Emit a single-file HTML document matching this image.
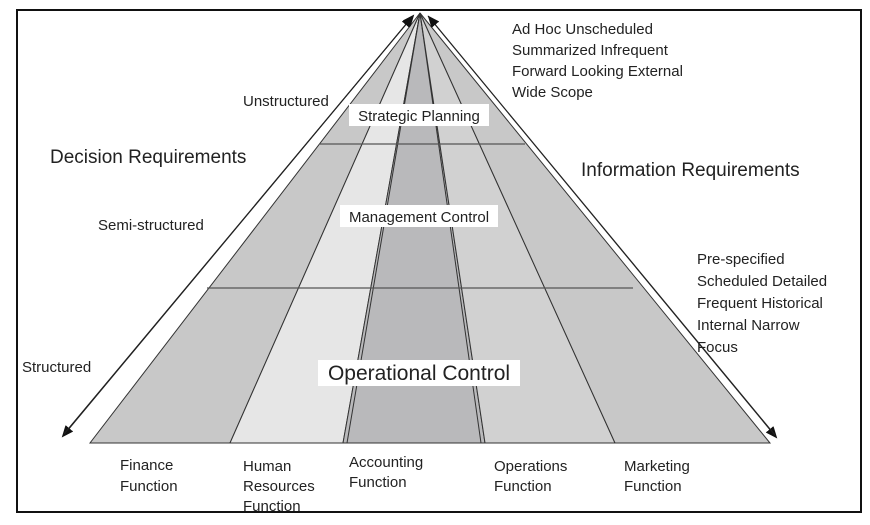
<!DOCTYPE html>
<html><head><meta charset="utf-8"><style>
body{margin:0;background:#fff;}
svg text{font-family:"Liberation Sans",Arial,sans-serif;fill:#222;}
</style></head><body>
<svg width="870" height="520" viewBox="0 0 870 520" xmlns="http://www.w3.org/2000/svg">
<rect x="0" y="0" width="870" height="520" fill="#fff"/>
<rect x="17" y="10" width="844" height="502" fill="none" stroke="#111" stroke-width="2"/>
<defs><marker id="ah" markerWidth="12" markerHeight="12" refX="10" refY="5" orient="auto" markerUnits="userSpaceOnUse"><path d="M0,0 L12,5 L0,10 z" fill="#111"/></marker></defs>
<!-- columns -->
<g stroke="#333" stroke-width="1">
<polygon points="420,13 90,443 230,443" fill="#c8c8c8"/>
<polygon points="420,13 230,443 343,443" fill="#e6e6e6"/>
<polygon points="420,13 343,443 485,443" fill="#b9b9bb"/>
<polygon points="420,13 485,443 615,443" fill="#d1d1d1"/>
<polygon points="420,13 615,443 770,443" fill="#c8c8c8"/>
</g>
<line x1="420" y1="13" x2="347" y2="443" stroke="#333" stroke-width="1"/>
<line x1="420" y1="13" x2="481" y2="443" stroke="#333" stroke-width="1"/>
<line x1="319" y1="144" x2="525" y2="144" stroke="#555" stroke-width="1.2"/>
<line x1="207" y1="288" x2="633" y2="288" stroke="#555" stroke-width="1.2"/>
<!-- arrows -->
<line x1="64" y1="434" x2="413" y2="16" stroke="#222" stroke-width="1" marker-end="url(#ah)" marker-start="url(#ah2)"/>
<line x1="413" y1="16" x2="63" y2="436" stroke="#222" stroke-width="1" marker-end="url(#ah)"/>
<line x1="64" y1="434" x2="412" y2="17" stroke="#222" stroke-width="1" marker-end="url(#ah)"/>
<line x1="428" y1="16" x2="776" y2="437" stroke="#222" stroke-width="1" marker-end="url(#ah)"/>
<line x1="775" y1="435" x2="429" y2="17" stroke="#222" stroke-width="1" marker-end="url(#ah)"/>
<!-- labels -->
<rect x="349" y="104" width="140" height="22" fill="#fff"/>
<text x="419" y="121" font-size="15" text-anchor="middle">Strategic Planning</text>
<rect x="340" y="205" width="158" height="22" fill="#fff"/>
<text x="419" y="222" font-size="15" text-anchor="middle">Management Control</text>
<rect x="318" y="360" width="202" height="26" fill="#fff"/>
<text x="419" y="380" font-size="21" text-anchor="middle">Operational Control</text>
<text x="243" y="106" font-size="15">Unstructured</text>
<text x="50" y="163" font-size="19">Decision Requirements</text>
<text x="98" y="230" font-size="15">Semi-structured</text>
<text x="22" y="372" font-size="15">Structured</text>
<g font-size="15">
<text x="512" y="34">Ad Hoc Unscheduled</text>
<text x="512" y="55">Summarized Infrequent</text>
<text x="512" y="76">Forward Looking External</text>
<text x="512" y="97">Wide Scope</text>
<text x="697" y="264">Pre-specified</text>
<text x="697" y="286">Scheduled Detailed</text>
<text x="697" y="308">Frequent Historical</text>
<text x="697" y="330">Internal Narrow</text>
<text x="697" y="352">Focus</text>
</g>
<text x="581" y="176" font-size="19">Information Requirements</text>
<g font-size="15">
<text x="120" y="470">Finance</text><text x="120" y="491">Function</text>
<text x="243" y="471">Human</text><text x="243" y="491">Resources</text><text x="243" y="511">Function</text>
<text x="349" y="467">Accounting</text><text x="349" y="487">Function</text>
<text x="494" y="471">Operations</text><text x="494" y="491">Function</text>
<text x="624" y="471">Marketing</text><text x="624" y="491">Function</text>
</g>
</svg>
</body></html>
